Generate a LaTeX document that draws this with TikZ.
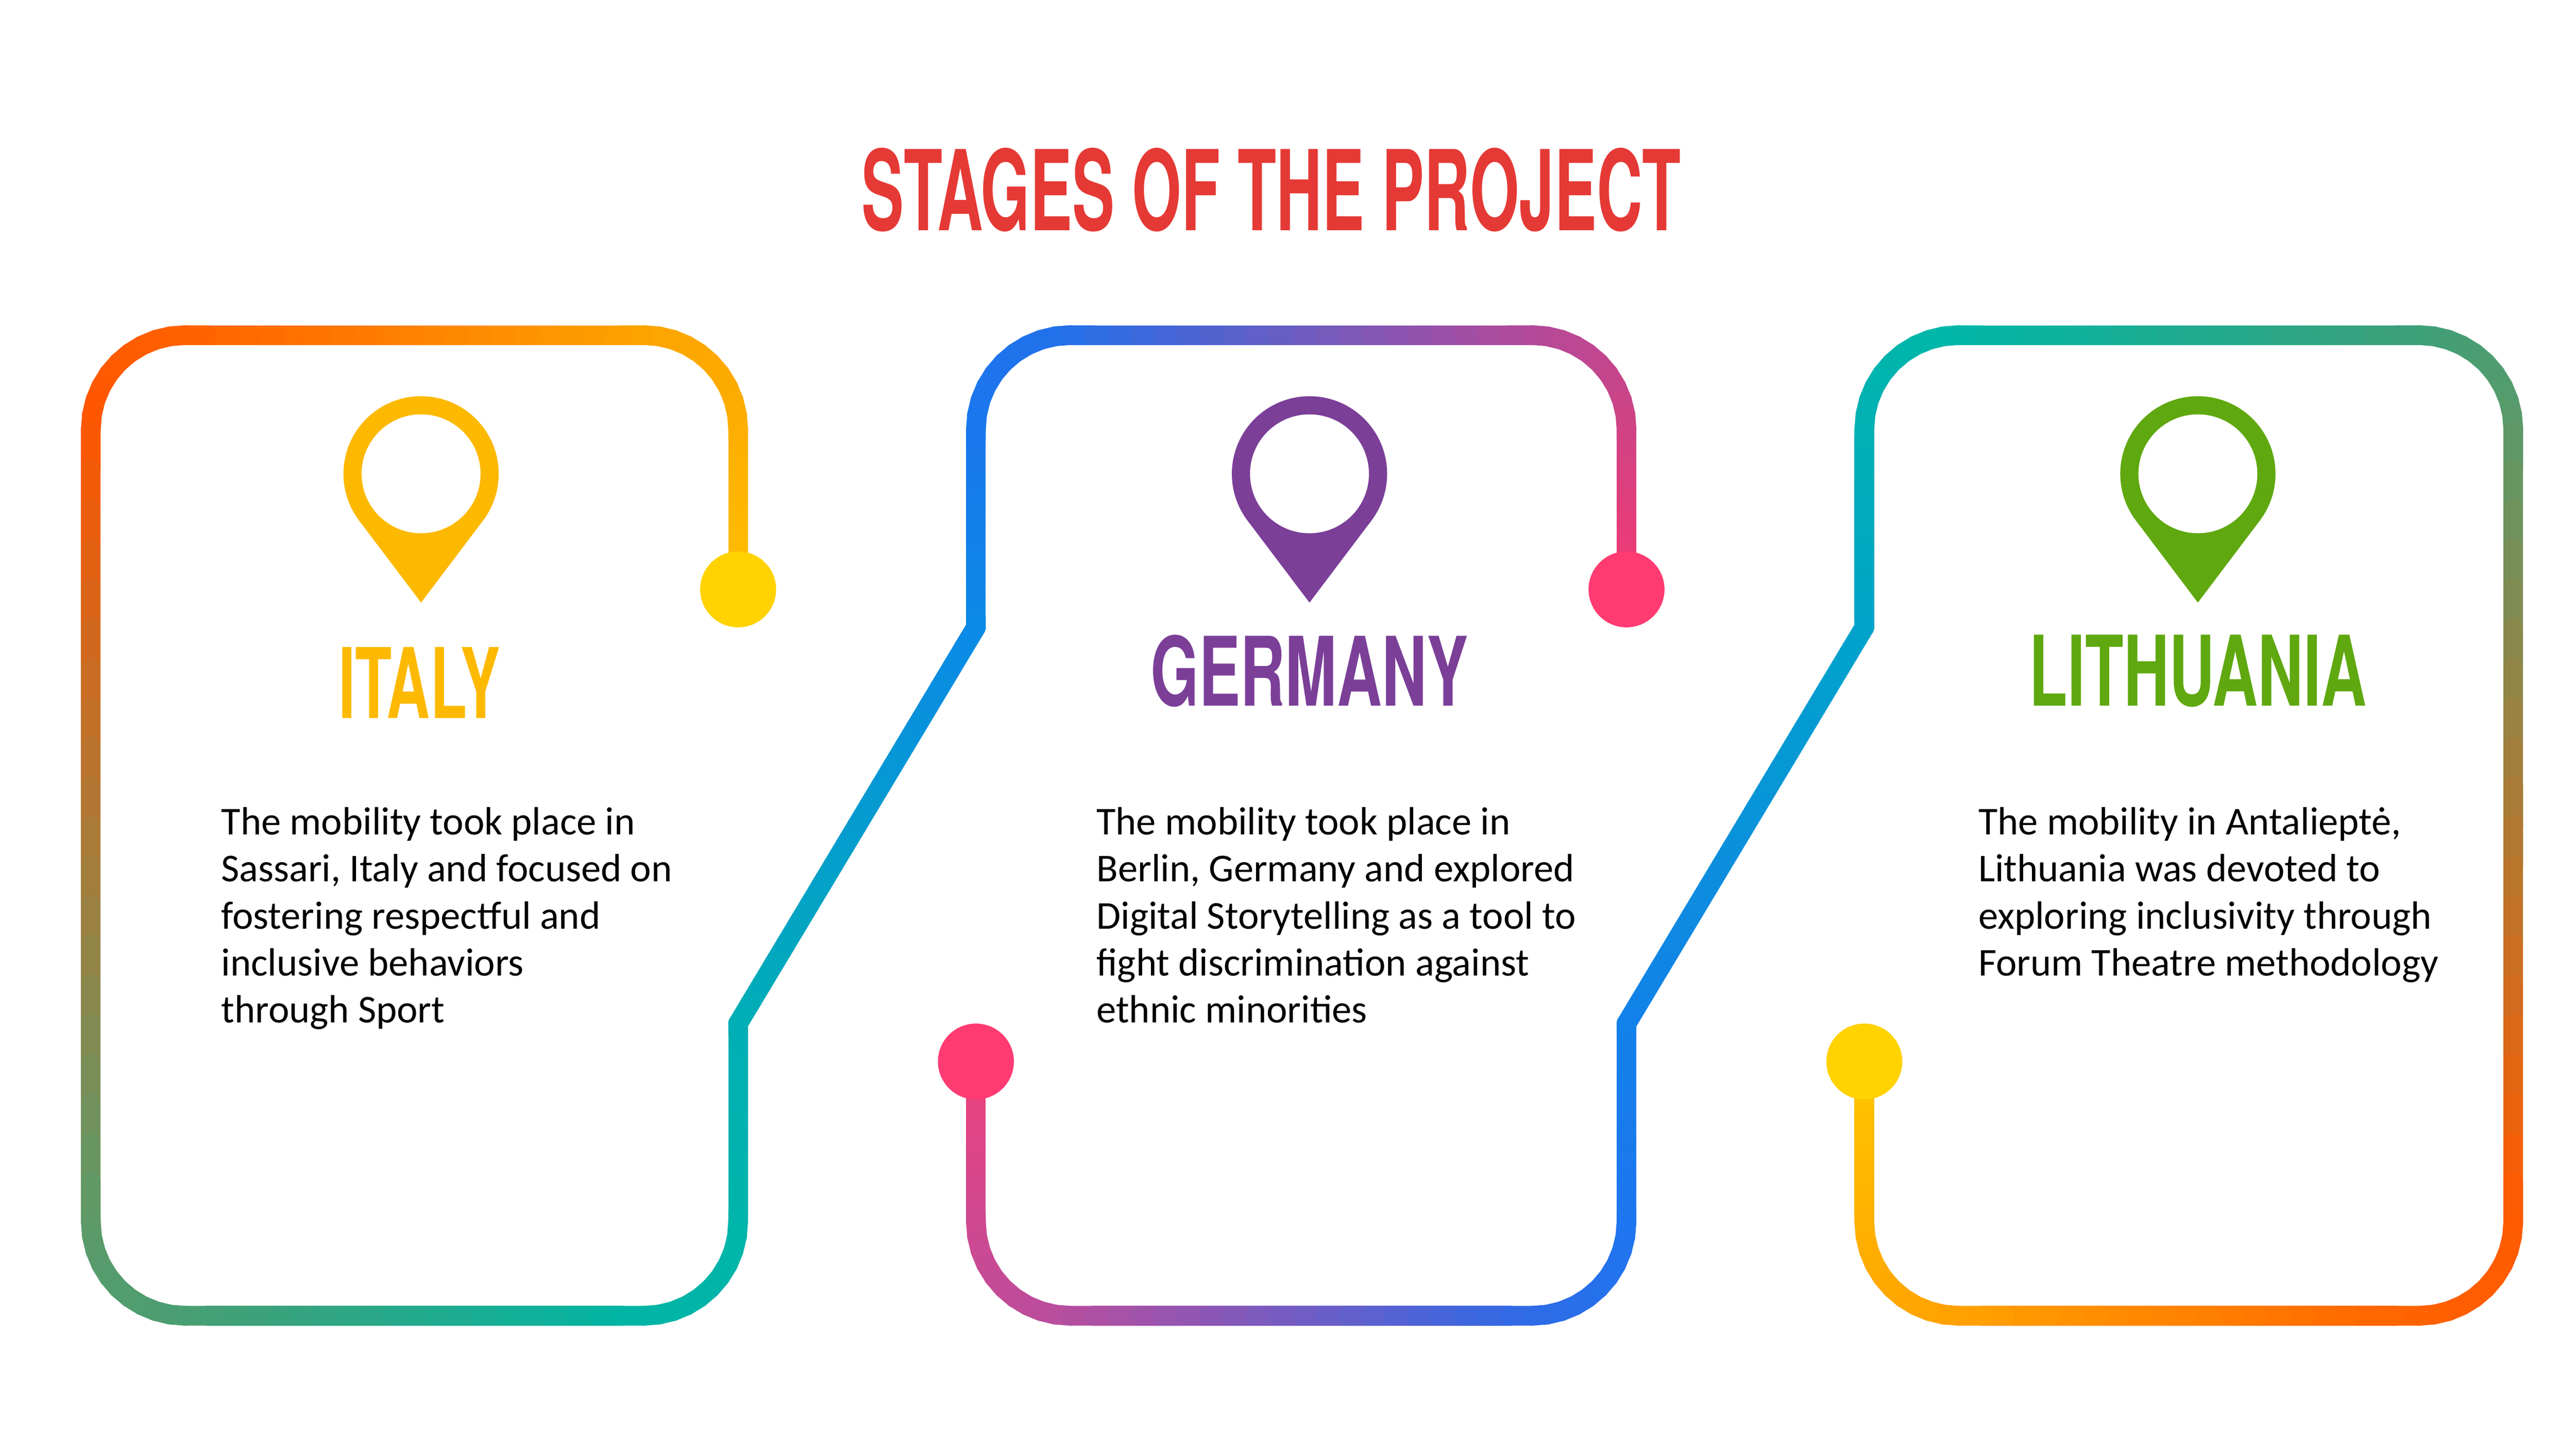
\documentclass[tikz,border=0pt]{standalone}
\usepackage{fontspec}
\setmainfont{Carlito}
\newfontfamily\headfont{TeX Gyre Heros}
\usetikzlibrary{calc}
\definecolor{titlered}{HTML}{E53935}
\definecolor{ca}{HTML}{FFC000}\definecolor{cb}{HTML}{FDAF00}\definecolor{cc}{HTML}{FDA500}
\definecolor{cd}{HTML}{FF6200}\definecolor{ce}{HTML}{FF5500}\definecolor{cf}{HTML}{5E9A68}
\definecolor{cg}{HTML}{4A9E72}\definecolor{ch}{HTML}{00B5A5}\definecolor{ci}{HTML}{00B5AA}
\definecolor{cj}{HTML}{00AFB5}\definecolor{ck}{HTML}{0A8AE6}\definecolor{cl}{HTML}{1A78EE}
\definecolor{cm}{HTML}{2270EA}\definecolor{cn}{HTML}{B24A9A}\definecolor{co}{HTML}{CE4385}
\definecolor{cp}{HTML}{F23A74}
\definecolor{da}{HTML}{F0407A}\definecolor{db}{HTML}{D04890}\definecolor{dc}{HTML}{B84E9E}
\definecolor{dd}{HTML}{2F6AE6}\definecolor{de}{HTML}{1E76F0}\definecolor{df}{HTML}{1380EA}
\definecolor{dg}{HTML}{00A3CB}\definecolor{dh}{HTML}{00B0B4}\definecolor{di}{HTML}{00B8A8}
\definecolor{dj}{HTML}{3DA07A}\definecolor{dk}{HTML}{5A9A6A}\definecolor{dl}{HTML}{FF5A00}
\definecolor{dm}{HTML}{FF6000}\definecolor{dn}{HTML}{FFA000}\definecolor{do}{HTML}{FFB000}
\definecolor{dp}{HTML}{FFC400}
\definecolor{dotyellow}{HTML}{FFD200}\definecolor{dotpink}{HTML}{FF3B72}
\definecolor{pinyellow}{HTML}{FDB900}\definecolor{pinpurple}{HTML}{7B3F98}\definecolor{pingreen}{HTML}{5FA80F}
\tikzset{seg/.style={line width=34pt,line cap=round}}
\newcommand\gl[6]{\foreach \i in {0,...,19}{%
  \pgfmathsetmacro\ta{\i/20}\pgfmathsetmacro\tb{(\i+1)/20}\pgfmathtruncatemacro\pc{97.5-\i*5}%
  \draw[seg,draw=#5!\pc!#6] ($(#1,#2)!\ta!(#3,#4)$) -- ($(#1,#2)!\tb!(#3,#4)$);}}
\newcommand\ga[6]{\foreach \i in {0,...,9}{%
  \pgfmathsetmacro\aa{#3+(#4-#3)*\i/10}\pgfmathsetmacro\ab{#3+(#4-#3)*(\i+1)/10}\pgfmathtruncatemacro\pc{95-\i*10}%
  \draw[seg,draw=#5!\pc!#6] ({#1+57*cos(\aa)},{#2+57*sin(\aa)}) -- ({#1+57*cos(\ab)},{#2+57*sin(\ab)});}}
\newcommand\pin[2]{%
  \fill[#2] (#1,287) circle (47);
  \fill[#2] (#1,365) -- ({#1+47*cos(37.1)},{287+47*sin(37.1)}) -- (#1,287) -- ({#1+47*cos(142.9)},{287+47*sin(142.9)}) -- cycle;
  \fill[white] (#1,287) circle (36);}
\tikzset{body/.style={anchor=north west,align=left,font=\fontsize{68}{81}\selectfont,inner sep=0pt}}
\begin{document}
\begin{tikzpicture}[x=1mm,y=-1mm]
\useasboundingbox (0,0) rectangle (1560,879.5);
% Italy + Germany top
\gl{447}{357}{447}{260}{ca}{cb}
\ga{390}{260}{360}{270}{cb}{cc}
\gl{390}{203}{112}{203}{cc}{cd}
\ga{112}{260}{270}{180}{cd}{ce}
\gl{55}{260}{55}{740}{ce}{cf}
\ga{112}{740}{180}{90}{cf}{cg}
\gl{112}{797}{390}{797}{cg}{ch}
\ga{390}{740}{90}{0}{ch}{ci}
\gl{447}{740}{447}{620}{ci}{cj}
\gl{447}{620}{591}{380}{cj}{ck}
\gl{591}{380}{591}{260}{ck}{cl}
\ga{648}{260}{180}{270}{cl}{cm}
\gl{648}{203}{928}{203}{cm}{cn}
\ga{928}{260}{270}{360}{cn}{co}
\gl{985}{260}{985}{357}{co}{cp}
% Germany bottom + Lithuania
\gl{591}{643}{591}{740}{da}{db}
\ga{648}{740}{180}{90}{db}{dc}
\gl{648}{797}{928}{797}{dc}{dd}
\ga{928}{740}{90}{0}{dd}{de}
\gl{985}{740}{985}{620}{de}{df}
\gl{985}{620}{1129}{380}{df}{dg}
\gl{1129}{380}{1129}{260}{dg}{dh}
\ga{1186}{260}{180}{270}{dh}{di}
\gl{1186}{203}{1465}{203}{di}{dj}
\ga{1465}{260}{270}{360}{dj}{dk}
\gl{1522}{260}{1522}{740}{dk}{dl}
\ga{1465}{740}{0}{90}{dl}{dm}
\gl{1465}{797}{1186}{797}{dm}{dn}
\ga{1186}{740}{90}{180}{dn}{do}
\gl{1129}{740}{1129}{643}{do}{dp}
% dots
\fill[dotyellow] (447,357) circle (23);
\fill[dotpink] (985,357) circle (23);
\fill[dotpink] (591,643) circle (23);
\fill[dotyellow] (1129,643) circle (23);
% pins
\pin{255}{pinyellow}
\pin{793}{pinpurple}
\pin{1331}{pingreen}
% titles
\node[titlered,inner sep=0pt] (title) at (770,115) {\resizebox{49.6cm}{5cm}{\headfont\bfseries STAGES OF THE PROJECT}};
\node[pinyellow,inner sep=0pt] (italy) at (254,413.5) {\resizebox{9.8cm}{4.3cm}{\headfont\bfseries ITALY}};
\node[pinpurple,inner sep=0pt] (germany) at (793,406.5) {\resizebox{19.2cm}{4.3cm}{\headfont\bfseries GERMANY}};
\node[pingreen,inner sep=0pt] (lithuania) at (1331,406.5) {\resizebox{20.4cm}{4.3cm}{\headfont\bfseries LITHUANIA}};
% body
\node[body] (t1) at (134,489) {The mobility took place in\\Sassari, Italy and focused on\\fostering respectful and\\inclusive behaviors\\through Sport};
\node[body] (t2) at (664,489) {The mobility took place in\\Berlin, Germany and explored\\Digital Storytelling as a tool to\\fight discrimination against\\ethnic minorities};
\node[body] (t3) at (1198,489) {The mobility in Antalieptė,\\Lithuania was devoted to\\exploring inclusivity through\\Forum Theatre methodology};
\end{tikzpicture}
\end{document}
